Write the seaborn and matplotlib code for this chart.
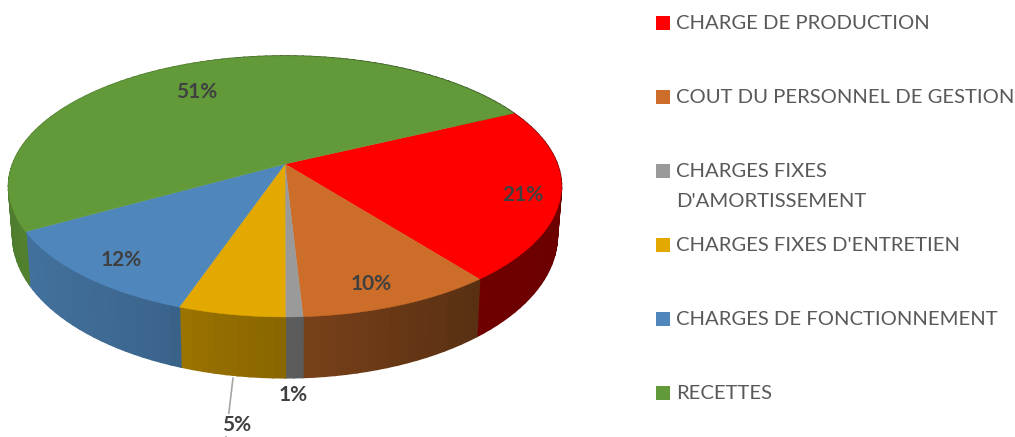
# 3D PIE CHART
import numpy as np
import seaborn as sns
import matplotlib.pyplot as plt

categories = ['CHARGE DE PRODUCTION', 'COUT DU PERSONNEL DE GESTION',
              "CHARGES FIXES\nD'AMORTISSEMENT", "CHARGES FIXES D'ENTRETIEN",
              'CHARGES DE FONCTIONNEMENT', 'RECETTES']
values = [21.49, 9.72, 0.86, 5.28, 11.6, 51.05]
colors = ['#FF0000', '#CC6E2A', '#9A9A9A', '#E3A900', '#4F87BC', '#629A39']

# layout, in pixels of the picture
label_pos = [(523, 195), (371, 284), (293, 395), (237, 425), (121, 260), (197, 92)]
legend_y = [23, 97, 171, 245, 319, 393]
cx, cy = 285, 164
first_angle = 64.5
k, a, c = 0.1724, 126.6, 272.3

sns.set_theme(style='white')
plt.rcParams['font.family'] = ['Lato', 'DejaVu Sans']
palette = sns.color_palette(colors)


def top_xy(theta):
    # perspective view of the pie top, theta is clockwise from north
    t = np.radians(theta)
    u, v = np.sin(t), np.cos(t)
    x = c * u / (1 + k * v)
    y = a * v / (1 + k * v)
    return x, y


def to_px(x, y):
    return cx + x, cy - y


def bottom_px(x, y):
    return cx + 0.985 * x, cy - (1.09 * y - 47)


def shade(col, theta):
    u = np.sin(np.radians(theta))
    b = np.interp(u, [-1, -0.87, -0.35, -0.3, 0, 0.6, 1], [0.8, 0.84, 0.74, 0.67, 0.6, 0.44, 0.42])
    return tuple(np.array(col) * b)


fig = plt.figure(figsize=(10.15, 4.37), dpi=100)
ax = fig.add_axes([0, 0, 1, 1])
ax.set_xlim(0, 1015)
ax.set_ylim(437, 0)
ax.axis('off')

edges = first_angle + np.cumsum([0] + values) * 3.6

# side of the pie, thin strips painted left to right so they overlap
for i, col in enumerate(palette):
    steps = np.linspace(edges[i], edges[i + 1], max(int(values[i] * 2), 3))
    for t0, t1 in zip(steps[:-1], steps[1:]):
        x0, y0 = top_xy(t0)
        x1, y1 = top_xy(t1)
        p0 = to_px(x0, y0)
        p1 = to_px(x1, y1)
        q0 = bottom_px(x0, y0)
        q1 = bottom_px(x1, y1)
        fc = shade(col, (t0 + t1) / 2)
        ax.fill([p0[0], p1[0], q1[0], q0[0]], [p0[1], p1[1], q1[1], q0[1]],
                facecolor=fc, edgecolor=fc, lw=1.2, zorder=2)

# top of the pie
for i, col in enumerate(palette):
    steps = np.linspace(edges[i], edges[i + 1], 120)
    x, y = top_xy(steps)
    px, py = to_px(x, y)
    ax.fill(np.r_[cx, px], np.r_[cy, py], facecolor=col, edgecolor=col, lw=0.3, zorder=3)

# leader line of the 5% label
ax.plot([233, 226], [378, 437], color='#A6A6A6', lw=1.2, zorder=4)

for val, (lx, ly) in zip(values, label_pos):
    ax.text(lx, ly, f'{val:.0f}%', ha='center', va='center', fontsize=15, fontweight='bold',
            color='#404040', zorder=5,
            bbox=dict(fc='white', ec='none', pad=0.5) if round(val) == 5 else None)

# legend
for name, col, ly in zip(categories, palette, legend_y):
    ax.fill([656, 670, 670, 656], [ly - 7, ly - 7, ly + 7, ly + 7], color=col, lw=0)
    if '\n' in name:
        one, two = name.split('\n')
        ax.text(676, ly + 0.5, one, ha='left', va='center', fontsize=14.6, color='#595959')
        ax.text(676, ly + 30.5, two, ha='left', va='center', fontsize=14.6, color='#595959')
    else:
        ax.text(676, ly + 0.5, name, ha='left', va='center', fontsize=14.6, color='#595959')

fig.savefig('out.png', dpi=100)
